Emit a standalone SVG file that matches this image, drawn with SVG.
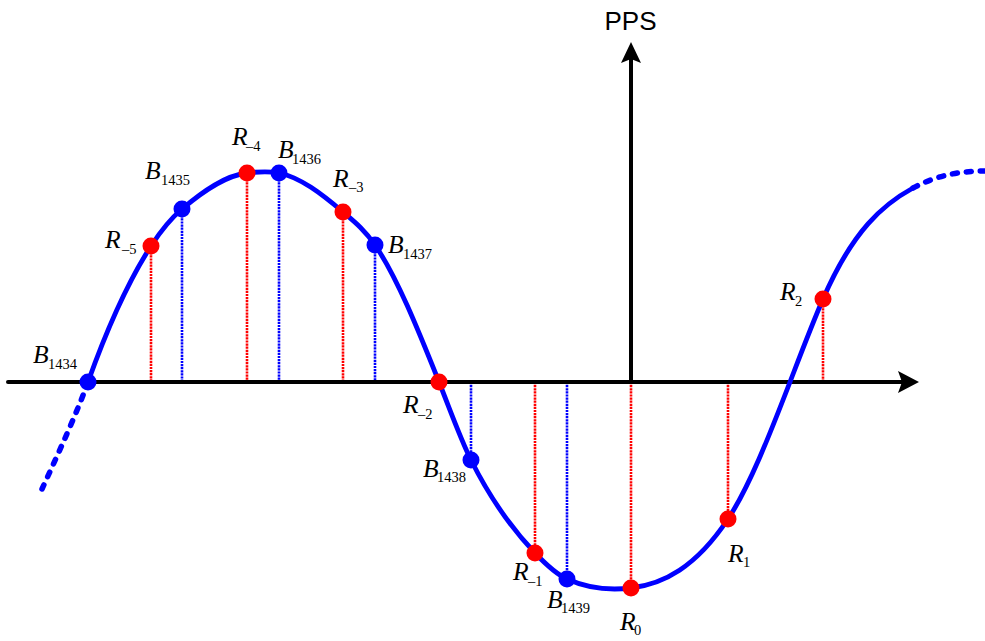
<svg xmlns="http://www.w3.org/2000/svg" width="985" height="641" viewBox="0 0 985 641">
<style>
.vr{stroke:#ff0000;stroke-width:2.6;stroke-dasharray:2.2 0.9;fill:none}
.vb{stroke:#0000ff;stroke-width:2.6;stroke-dasharray:2.2 0.9;fill:none}
.ax{stroke:#000;stroke-width:4;fill:none;stroke-linecap:round}
.cv{stroke:#0000ff;stroke-width:4.8;fill:none;stroke-linecap:round}
.cd{stroke:#0000ff;stroke-width:5.5;fill:none;stroke-linecap:round;stroke-dasharray:5 9}
.dr{fill:#ff0000}
.db{fill:#0000ff}
.lb{font-family:"Liberation Serif","Times New Roman",serif;font-style:italic;font-size:25.5px;fill:#000}
.sb{font-style:normal;font-size:14.5px}
.pps{font-family:"Liberation Sans",Arial,sans-serif;font-size:26px;fill:#000}
</style>
<g id="connectors">
<line class="vr" x1="151" y1="246" x2="151" y2="382"/>
<line class="vb" x1="182" y1="209" x2="182" y2="382"/>
<line class="vr" x1="247" y1="173" x2="247" y2="382"/>
<line class="vb" x1="279" y1="173" x2="279" y2="382"/>
<line class="vr" x1="343" y1="212" x2="343" y2="382"/>
<line class="vb" x1="375" y1="245" x2="375" y2="382"/>
<line class="vb" x1="471" y1="382" x2="471" y2="460"/>
<line class="vr" x1="535" y1="382" x2="535" y2="553"/>
<line class="vb" x1="567" y1="382" x2="567" y2="579"/>
<line class="vr" x1="631" y1="382" x2="631" y2="588"/>
<line class="vr" x1="728" y1="382" x2="728" y2="519"/>
<line class="vr" x1="823" y1="299" x2="823" y2="382"/>
</g>
<g id="axes">
<line class="ax" x1="8" y1="382" x2="902" y2="382"/>
<polygon points="919,382 898,371 902,382 898,393" fill="#000"/>
<line class="ax" x1="631" y1="382" x2="631" y2="58"/>
<polygon points="631,42 621,63 631,59 641,63" fill="#000"/>
<text class="pps" x="630.5" y="30" text-anchor="middle">PPS</text>
</g>
<g id="curve">
<path class="cd" d="M88,382 C78,410 60,450 42,489"/>
<path class="cv" d="M88,382 C109,323.2 130,278.6 151,246 C161.33,230 171.67,217.8 182,209 C203.67,190.6 225.33,175.6 247,173 C257.67,171.7 268.33,170.9 279,173 C300.33,177.3 321.67,193.9 343,212 C353.67,221.1 364.33,229.5 375,245 C396.33,275.9 417.67,328.7 439,382 C449.67,408.7 460.33,438.7 471,460 C492.33,502.7 513.67,530.6 535,553 C545.67,564.2 556.33,574.2 567,579 C588.33,588.6 609.67,590.6 631,588 C663.33,584.1 695.67,567.5 728,519 C748.67,488 769.33,435.7 790,382 C801,353.4 812,324.3 823,299 C853,230 883,204.5 913,188"/>
<path class="cd" d="M913,188 C937,175 961,171 985,171"/>
</g>
<g id="B1434"><circle class="db" cx="88" cy="382" r="8.5"/><text class="lb" x="33" y="363">B<tspan class="sb" x="48" y="369">1434</tspan></text></g>
<g id="R-5"><circle class="dr" cx="151" cy="246" r="8.5"/><text class="lb" x="105" y="248">R<tspan class="sb" x="122" y="254">–5</tspan></text></g>
<g id="B1435"><circle class="db" cx="182" cy="209" r="8.5"/><text class="lb" x="145" y="179">B<tspan class="sb" x="161" y="185">1435</tspan></text></g>
<g id="R-4"><circle class="dr" cx="247" cy="173" r="8.5"/><text class="lb" x="232" y="145">R<tspan class="sb" x="246" y="151">–4</tspan></text></g>
<g id="B1436"><circle class="db" cx="279" cy="173" r="8.5"/><text class="lb" x="278" y="158">B<tspan class="sb" x="292" y="164">1436</tspan></text></g>
<g id="R-3"><circle class="dr" cx="343" cy="212" r="8.5"/><text class="lb" x="333" y="187">R<tspan class="sb" x="349" y="192">–3</tspan></text></g>
<g id="B1437"><circle class="db" cx="375" cy="245" r="8.5"/><text class="lb" x="388" y="253">B<tspan class="sb" x="403" y="259">1437</tspan></text></g>
<g id="R-2"><circle class="dr" cx="439" cy="382" r="8.5"/><text class="lb" x="403" y="413">R<tspan class="sb" x="418" y="419">–2</tspan></text></g>
<g id="B1438"><circle class="db" cx="471" cy="460" r="8.5"/><text class="lb" x="423" y="477">B<tspan class="sb" x="437" y="482">1438</tspan></text></g>
<g id="R-1"><circle class="dr" cx="535" cy="553" r="8.5"/><text class="lb" x="513" y="580">R<tspan class="sb" x="528" y="586">–1</tspan></text></g>
<g id="B1439"><circle class="db" cx="567" cy="579" r="8.5"/><text class="lb" x="547" y="608">B<tspan class="sb" x="561" y="613">1439</tspan></text></g>
<g id="R0"><circle class="dr" cx="631" cy="588" r="8.5"/><text class="lb" x="620" y="630">R<tspan class="sb" x="634" y="635">0</tspan></text></g>
<g id="R1"><circle class="dr" cx="728" cy="519" r="8.5"/><text class="lb" x="728" y="562">R<tspan class="sb" x="743" y="567">1</tspan></text></g>
<g id="R2"><circle class="dr" cx="823" cy="299" r="8.5"/><text class="lb" x="780" y="300">R<tspan class="sb" x="795" y="306">2</tspan></text></g>
</svg>
